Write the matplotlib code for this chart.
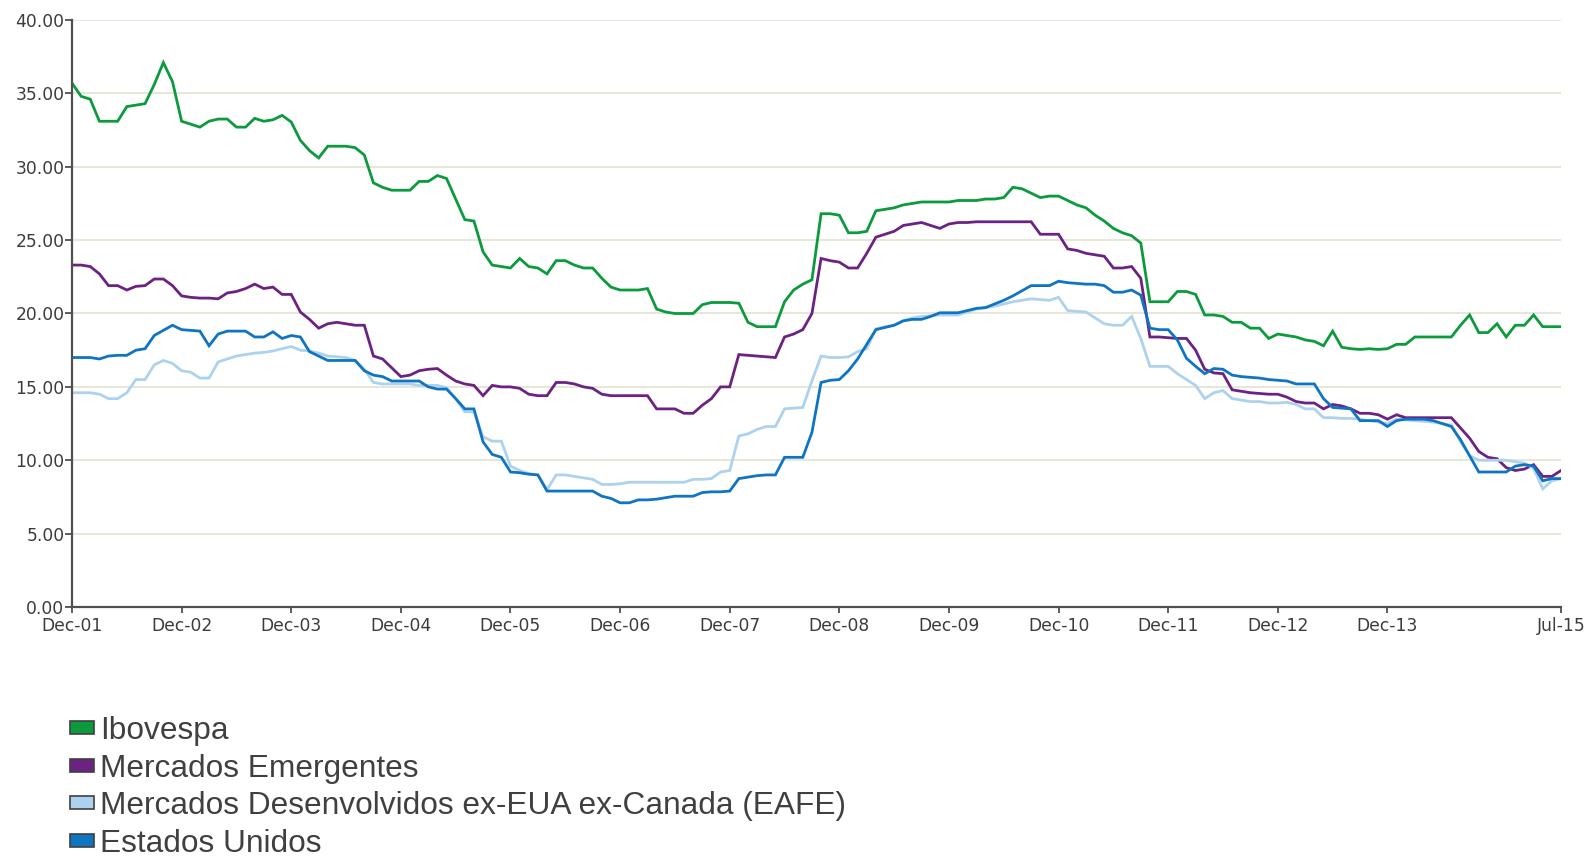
import matplotlib
matplotlib.use("Agg")
import matplotlib.pyplot as plt
from matplotlib.patches import Patch
from matplotlib.ticker import FormatStrFormatter
import numpy as np

tick_labels = ["Dec-01", "Dec-02", "Dec-03", "Dec-04", "Dec-05", "Dec-06", "Dec-07",
               "Dec-08", "Dec-09", "Dec-10", "Dec-11", "Dec-12", "Dec-13", "Jul-15"]
tick_months = [0, 12, 24, 36, 48, 60, 72, 84, 96, 108, 120, 132, 144, 163]

series_names = ["Ibovespa", "Mercados Emergentes",
                "Mercados Desenvolvidos ex-EUA ex-Canada (EAFE)", "Estados Unidos"]

ibovespa = [35.7, 34.8, 34.6, 33.1, 33.1, 33.1, 34.1, 34.2, 34.3, 35.6,
            37.1, 35.8, 33.1, 32.9, 32.7, 33.1, 33.25, 33.25, 32.7, 32.7,
            33.3, 33.1, 33.2, 33.5, 33.05, 31.8, 31.1, 30.6, 31.4, 31.4,
            31.4, 31.3, 30.8, 28.9, 28.6, 28.4, 28.4, 28.4, 29.0, 29.0,
            29.4, 29.2, 27.8, 26.4, 26.3, 24.2, 23.3, 23.2, 23.1, 23.75,
            23.2, 23.1, 22.7, 23.6, 23.6, 23.3, 23.1, 23.1, 22.4, 21.8,
            21.6, 21.6, 21.6, 21.7, 20.3, 20.1, 20.0, 20.0, 20.0, 20.6,
            20.75, 20.75, 20.75, 20.7, 19.4, 19.1, 19.1, 19.1, 20.8, 21.6,
            22.0, 22.3, 26.8, 26.8, 26.7, 25.5, 25.5, 25.6, 27.0, 27.1,
            27.2, 27.4, 27.5, 27.6, 27.6, 27.6, 27.6, 27.7, 27.7, 27.7,
            27.8, 27.8, 27.9, 28.6, 28.5, 28.2, 27.9, 28.0, 28.0, 27.7,
            27.4, 27.2, 26.7, 26.3, 25.8, 25.5, 25.3, 24.8, 20.8, 20.8,
            20.8, 21.5, 21.5, 21.3, 19.9, 19.9, 19.8, 19.4, 19.4, 19.0,
            19.0, 18.3, 18.6, 18.5, 18.4, 18.2, 18.1, 17.8, 18.8, 17.7,
            17.6, 17.55, 17.6, 17.55, 17.6, 17.9, 17.9, 18.4, 18.4, 18.4,
            18.4, 18.4, 19.2, 19.9, 18.7, 18.7, 19.3, 18.4, 19.2, 19.2,
            19.9, 19.1, 19.1, 19.1]

emergentes = [23.3, 23.3, 23.2, 22.7, 21.9, 21.9, 21.6, 21.85, 21.9, 22.35,
              22.35, 21.9, 21.2, 21.1, 21.05, 21.05, 21.0, 21.4, 21.5, 21.7,
              22.0, 21.7, 21.8, 21.3, 21.3, 20.1, 19.6, 19.0, 19.3, 19.4,
              19.3, 19.2, 19.2, 17.1, 16.9, 16.3, 15.7, 15.8, 16.1, 16.2,
              16.25, 15.8, 15.4, 15.2, 15.1, 14.4, 15.1, 15.0, 15.0, 14.9,
              14.5, 14.4, 14.4, 15.3, 15.3, 15.2, 15.0, 14.9, 14.5, 14.4,
              14.4, 14.4, 14.4, 14.4, 13.5, 13.5, 13.5, 13.2, 13.2, 13.75,
              14.2, 15.0, 15.0, 17.2, 17.15, 17.1, 17.05, 17.0, 18.4, 18.6,
              18.9, 20.0, 23.75, 23.6, 23.5, 23.1, 23.1, 24.1, 25.2, 25.4,
              25.6, 26.0, 26.1, 26.2, 26.0, 25.8, 26.1, 26.2, 26.2, 26.25,
              26.25, 26.25, 26.25, 26.25, 26.25, 26.25, 25.4, 25.4, 25.4, 24.4,
              24.3, 24.1, 24.0, 23.9, 23.1, 23.1, 23.2, 22.4, 18.4, 18.4,
              18.35, 18.3, 18.3, 17.5, 16.2, 15.95, 15.9, 14.8, 14.7, 14.6,
              14.55, 14.5, 14.5, 14.3, 14.0, 13.9, 13.9, 13.5, 13.8, 13.7,
              13.5, 13.2, 13.2, 13.1, 12.8, 13.1, 12.9, 12.9, 12.9, 12.9,
              12.9, 12.9, 12.2, 11.5, 10.6, 10.2, 10.1, 9.5, 9.3, 9.4,
              9.7, 8.9, 8.9, 9.3]

eafe = [14.6, 14.6, 14.6, 14.5, 14.2, 14.2, 14.6, 15.5, 15.5, 16.5,
        16.8, 16.6, 16.1, 16.0, 15.6, 15.6, 16.7, 16.9, 17.1, 17.2,
        17.3, 17.35, 17.45, 17.6, 17.75, 17.5, 17.45, 17.3, 17.1, 17.05,
        17.0, 16.8, 16.2, 15.3, 15.2, 15.2, 15.2, 15.2, 15.1, 15.1,
        15.1, 14.95, 14.2, 13.3, 13.3, 11.6, 11.3, 11.3, 9.6, 9.3,
        9.1, 9.0, 8.0, 9.0, 9.0, 8.9, 8.8, 8.7, 8.35, 8.35,
        8.4, 8.5, 8.5, 8.5, 8.5, 8.5, 8.5, 8.5, 8.7, 8.7,
        8.75, 9.2, 9.3, 11.65, 11.8, 12.1, 12.3, 12.3, 13.5, 13.55,
        13.6, 15.4, 17.1, 17.0, 17.0, 17.05, 17.4, 17.6, 18.95, 19.1,
        19.2, 19.5, 19.7, 19.8, 19.85, 19.9, 19.9, 19.9, 20.1, 20.3,
        20.4, 20.5, 20.65, 20.8, 20.9, 21.0, 20.95, 20.9, 21.1, 20.2,
        20.15, 20.1, 19.7, 19.3, 19.2, 19.2, 19.8, 18.3, 16.4, 16.4,
        16.4, 15.9, 15.5, 15.1, 14.2, 14.6, 14.75, 14.2, 14.1, 14.0,
        14.0, 13.9, 13.9, 13.95, 13.8, 13.5, 13.5, 12.9, 12.9, 12.85,
        12.85, 12.8, 12.7, 12.6, 12.5, 12.8, 12.75, 12.7, 12.65, 12.6,
        12.5, 12.4, 11.25, 10.3, 10.0, 10.0, 10.0, 10.0, 9.9, 9.8,
        9.45, 8.05, 8.6, 8.75]

eua = [17.0, 17.0, 17.0, 16.9, 17.1, 17.15, 17.15, 17.5, 17.6, 18.5,
       18.85, 19.2, 18.9, 18.85, 18.8, 17.8, 18.6, 18.8, 18.8, 18.8,
       18.4, 18.4, 18.75, 18.3, 18.5, 18.4, 17.4, 17.1, 16.8, 16.8,
       16.8, 16.8, 16.1, 15.8, 15.7, 15.4, 15.4, 15.4, 15.4, 15.0,
       14.85, 14.85, 14.2, 13.5, 13.5, 11.25, 10.4, 10.2, 9.2, 9.15,
       9.05, 9.0, 7.9, 7.9, 7.9, 7.9, 7.9, 7.9, 7.55, 7.4,
       7.1, 7.1, 7.3, 7.3, 7.35, 7.45, 7.55, 7.55, 7.55, 7.8,
       7.85, 7.85, 7.9, 8.75, 8.85, 8.95, 9.0, 9.0, 10.2, 10.2,
       10.2, 11.9, 15.3, 15.45, 15.5, 16.1, 16.9, 17.9, 18.9, 19.05,
       19.2, 19.5, 19.6, 19.6, 19.8, 20.05, 20.05, 20.05, 20.2, 20.35,
       20.4, 20.65, 20.9, 21.2, 21.55, 21.9, 21.9, 21.9, 22.2, 22.1,
       22.05, 22.0, 22.0, 21.9, 21.45, 21.45, 21.6, 21.25, 19.0, 18.9,
       18.9, 18.2, 16.95, 16.4, 15.9, 16.25, 16.2, 15.8, 15.7, 15.65,
       15.6, 15.5, 15.45, 15.4, 15.2, 15.2, 15.2, 14.2, 13.6, 13.55,
       13.5, 12.7, 12.7, 12.7, 12.3, 12.7, 12.8, 12.8, 12.8, 12.7,
       12.5, 12.3, 11.4, 10.3, 9.2, 9.2, 9.2, 9.2, 9.6, 9.7,
       9.6, 8.6, 8.75, 8.75]

colors = ["#0b9a3c", "#6b2283", "#add2ee", "#0f74c2"]
all_series = [ibovespa, emergentes, eafe, eua]

fig = plt.figure(figsize=(15.93, 8.60), dpi=100)
ax = fig.add_axes([72/1593, 1 - 607/860, (1561-72)/1593, (607-20)/860])

months = np.arange(len(ibovespa))
for vals, c, name in zip(all_series, colors, series_names):
    ax.plot(months, vals, color=c, lw=2.0, label=name, solid_joinstyle="miter")

ax.set_xlim(0, 163)
ax.set_ylim(0, 40)
ax.set_yticks(np.arange(0, 40.1, 5))
ax.yaxis.set_major_formatter(FormatStrFormatter("%.2f"))
ax.set_xticks(tick_months)
ax.set_xticklabels(tick_labels)
ax.grid(axis="y", color="#e3e3cf", lw=1.2)
ax.set_axisbelow(True)
for s in ["top", "right"]:
    ax.spines[s].set_visible(False)
for s in ["left", "bottom"]:
    ax.spines[s].set_color("#505050")
    ax.spines[s].set_linewidth(1.6)
ax.tick_params(axis="both", colors="#505050", labelcolor="#3c3c3c", labelsize=12.3,
               length=5, width=1.3)
ax.tick_params(axis="x", pad=3, length=4)
ax.tick_params(axis="y", pad=0.5)

handles = [Patch(facecolor=c, edgecolor="#404040", linewidth=1.2) for c in colors]
leg = fig.legend(handles, series_names, loc="upper left",
                 bbox_to_anchor=(70/1593, 1 - 716/860), frameon=False,
                 prop={"family": ["Liberation Sans", "DejaVu Sans"], "size": 22.8},
                 handlelength=0.76, handleheight=0.26, handletextpad=0.2,
                 labelspacing=0.24, borderaxespad=0, borderpad=0)
for t in leg.get_texts():
    t.set_color("#404040")

fig.savefig("out.png", dpi=100)
